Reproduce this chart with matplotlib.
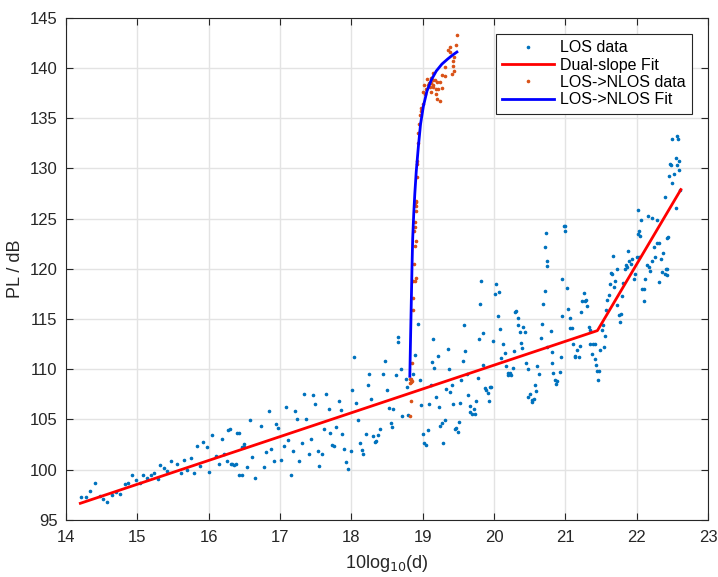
"""
Path loss vs. log-distance: LOS data with dual-slope fit and LOS->NLOS transition.
"""

import numpy as np
import matplotlib
matplotlib.use("Agg")
import matplotlib.pyplot as plt

plt.rcParams["font.family"] = ["Liberation Sans", "DejaVu Sans"]

# LOS measurements (10log10(d), PL in dB)
los_x = [14.21, 14.28, 14.34, 14.41, 14.47, 14.52, 14.58, 14.64, 14.70, 14.76,
         14.82, 14.87, 14.92, 14.98, 15.03, 15.08, 15.14, 15.19, 15.24, 15.29,
         15.32, 15.37, 15.41, 15.47, 15.56, 15.61, 15.65, 15.70, 15.75, 15.79,
         15.83, 15.88, 15.92, 15.97, 16.01, 16.05, 16.10, 16.14, 16.18, 16.22,
         16.26, 16.30, 16.33, 16.38, 16.42, 16.46, 16.50,
         16.27, 16.39, 16.31, 16.35, 16.43, 16.47, 16.50, 16.54, 16.58, 16.61,
         16.65, 16.73, 16.77, 16.80, 16.84, 16.87, 16.91, 16.94, 16.97, 17.01,
         17.05, 17.08, 17.11, 17.15, 17.18, 17.21, 17.24, 17.27, 17.31, 17.34,
         17.37, 17.40, 17.43, 17.46, 17.49, 17.53, 17.55, 17.59, 17.62, 17.64,
         17.68, 17.70, 17.73, 17.76, 17.79, 17.82, 17.85, 17.87, 17.90, 17.93,
         17.96, 17.99, 18.01, 18.04, 18.07, 18.09, 18.12, 18.15, 18.17, 18.20,
         18.23, 18.25, 18.28, 18.30, 18.33, 18.35, 18.38, 18.40, 18.45, 18.47,
         18.50, 18.53, 18.55, 18.57, 18.59, 18.62, 18.66, 18.69, 18.71, 18.76,
         18.78, 18.79, 18.66, 18.87,
         18.93, 18.89, 18.96, 18.98, 19.00, 19.02, 19.04, 19.07, 19.09, 19.11,
         19.13, 19.15, 19.16, 19.19, 19.21, 19.23, 19.25, 19.27, 19.29, 19.31,
         19.33, 19.35, 19.37, 19.39, 19.41, 19.43, 19.45, 19.47, 19.49, 19.51,
         19.53, 19.54, 19.56, 19.58, 19.60, 19.62, 19.64, 19.66, 19.67, 19.69,
         19.72, 19.73, 19.75, 19.77, 19.79, 19.80, 19.82, 19.84, 19.85, 19.87,
         19.89, 19.91, 19.93, 19.94, 19.96, 19.99, 20.01, 20.03, 20.05, 20.07,
         20.08, 20.10, 20.13, 20.15, 20.17, 20.19, 20.20, 20.22, 20.24, 20.26,
         20.28, 20.30, 20.31, 20.33, 20.34, 20.36, 20.38, 20.39, 20.41, 20.43,
         20.45, 20.47, 20.48, 20.50, 20.53, 20.54, 20.56, 20.57, 20.59, 20.60,
         20.63, 20.66, 20.68, 20.69, 20.72, 20.74, 20.75, 20.71, 20.75, 20.73,
         20.80, 20.81, 20.82, 20.83, 20.86, 20.87, 20.89, 20.92, 20.94, 20.96,
         20.96, 20.98, 20.99, 21.00, 21.02, 21.04, 21.06, 21.07, 21.09, 21.11,
         21.13, 21.14, 21.17, 21.19, 21.20, 21.22, 21.24, 21.26, 21.27, 21.29,
         21.31, 21.33, 21.34, 21.35, 21.37, 21.39, 21.41, 21.42, 21.43, 21.44,
         21.46, 21.47, 21.48, 21.51, 21.53, 21.54, 21.56, 21.57, 21.59, 21.61,
         21.63, 21.64, 21.66, 21.67, 21.68, 21.70, 21.72, 21.73, 21.75, 21.76,
         21.78, 21.80, 21.81, 21.83, 21.85, 21.86, 21.88, 21.90, 21.92, 21.93,
         21.96, 21.98, 22.00, 22.02, 22.03, 22.04, 22.05, 22.06, 22.08, 22.10,
         22.11, 22.12, 22.15, 22.16, 22.17, 22.19, 22.21, 22.22, 22.24, 22.26,
         22.28, 22.29, 22.31, 22.32, 22.34, 22.35, 22.37, 22.40, 22.41, 22.43,
         22.50, 22.57, 22.58, 22.55, 22.59, 22.47, 22.48, 22.56, 22.60, 22.45,
         22.52, 22.49, 22.61, 22.40, 22.55, 22.44, 22.43, 22.42, 22.02]
los_pl = [97.3, 97.3, 97.9, 98.7, 97.4, 97.1, 96.8, 97.5, 97.8, 97.6,
          98.6, 98.7, 99.5, 99.0, 98.7, 99.5, 99.2, 99.5, 99.7, 99.1,
          100.5, 100.2, 99.9, 100.9, 100.6, 99.7, 101.0, 100.0, 101.2, 99.7,
          102.4, 100.4, 102.8, 102.3, 99.8, 103.5, 101.4, 100.6, 103.1, 101.6,
          100.9, 104.1, 100.6, 100.6, 103.7, 99.5, 102.3,
          104.0, 103.7, 100.6, 100.5, 99.5, 102.3, 102.6, 100.3, 104.9, 101.3,
          99.2, 104.4, 100.3, 101.8, 105.8, 102.1, 100.9, 104.5, 104.2, 101.0,
          102.4, 106.2, 103.0, 99.5, 101.9, 105.8, 105.0, 100.9, 102.7, 107.5,
          105.0, 101.6, 103.1, 107.4, 106.5, 101.9, 100.4, 101.6, 104.1, 107.5,
          106.0, 103.7, 102.5, 102.4, 104.3, 106.8, 105.9, 103.6, 102.1, 100.8,
          100.1, 101.9, 107.9, 111.2, 106.6, 104.9, 102.7, 102.0, 101.6, 103.6,
          108.4, 109.5, 107.0, 103.4, 102.8, 102.9, 103.5, 104.1, 109.5, 110.8,
          107.9, 106.1, 104.6, 104.3, 106.0, 109.4, 112.7, 110.0, 105.3, 109.0,
          108.2, 105.4, 113.2, 109.5,
          114.5, 111.4, 108.9, 106.4, 103.6, 102.7, 102.5, 104.0, 106.5, 108.4,
          110.7, 113.0, 110.1, 107.2, 111.3, 106.2, 104.4, 104.6, 102.7, 104.9,
          108.0, 112.0, 110.0, 107.7, 108.4, 106.5, 104.1, 104.2, 103.8, 104.7,
          106.6, 108.9, 110.8, 114.4, 111.8, 109.5, 107.4, 106.3, 105.7, 105.5,
          106.0, 105.5, 106.8, 109.1, 113.0, 116.5, 118.8, 113.6, 110.4, 108.1,
          107.9, 107.6, 106.8, 108.2, 108.2, 112.8, 117.5, 118.5, 115.3, 117.7,
          114.0, 111.1, 112.5, 111.6, 110.3, 109.4, 109.6, 109.6, 109.4, 110.1,
          111.8, 115.7, 115.8, 114.4, 115.1, 113.7, 112.6, 112.1, 114.2, 113.7,
          110.6, 110.0, 107.2, 107.5, 106.9, 106.7, 107.0, 108.4, 107.8, 110.3,
          109.5, 113.1, 114.5, 116.5, 117.8, 120.8, 120.3, 122.2, 112.2, 123.6,
          113.8, 111.7, 110.6, 109.6, 108.9, 108.5, 108.8, 109.7, 111.2, 115.3,
          119.0, 124.3, 124.3, 123.8, 118.1, 116.0, 115.1, 114.1, 114.1, 112.5,
          111.3, 111.2, 111.9, 111.2, 112.3, 115.7, 116.8, 117.6, 116.8, 116.9,
          116.3, 114.2, 113.9, 112.5, 111.5, 112.5, 112.5, 111.0, 110.4, 109.8,
          108.9, 109.8, 111.9, 113.9, 114.4, 112.2, 113.3, 115.9, 116.9, 117.4,
          118.5, 119.6, 119.5, 121.3, 118.2, 118.8, 120.0, 116.4, 115.4, 114.7,
          115.5, 117.3, 118.6, 120.0, 120.4, 120.2, 121.8, 120.8, 120.5, 121.0,
          119.0, 119.5, 121.2, 123.5, 123.8, 121.2, 123.3, 124.9, 118.0, 116.8,
          118.0, 119.0, 120.4, 125.3, 120.2, 119.8, 125.1, 120.8, 122.2, 121.2,
          124.9, 122.6, 122.6, 118.7, 121.0, 119.7, 121.6, 119.5, 120.0, 123.1,
          132.9, 133.2, 132.9, 131.0, 130.7, 130.4, 130.3, 130.3, 129.8, 129.3,
          129.5, 128.6, 127.9, 127.2, 126.1, 123.2, 120.0, 119.4, 125.9]

# LOS->NLOS measurements
nlos_x = [19.48, 19.47, 19.38, 19.36, 19.38, 19.44, 19.43, 19.42, 19.32, 19.44,
          19.15, 19.41, 19.27, 19.32, 19.06, 19.11, 19.14, 19.17, 19.09, 19.12,
          19.02, 19.07, 19.15, 19.20, 19.25, 19.27, 19.04, 19.10, 19.14, 19.18,
          19.22, 19.00, 19.03, 19.19, 19.12, 19.20, 19.25, 19.00, 18.98, 18.97,
          18.96, 18.95, 18.94, 18.93, 18.92, 18.92, 18.92, 18.90, 18.89,
          18.91, 18.91, 18.90, 18.89, 18.89, 18.88, 18.90, 18.89, 18.88, 18.90,
          18.89, 18.87, 18.86, 18.86, 18.85, 18.84, 18.83, 18.82, 18.85, 18.82,
          18.83, 18.82]
nlos_pl = [143.3, 142.3, 142.1, 141.8, 141.6, 141.1, 140.7, 140.2, 140.1, 139.7,
           139.5, 139.4, 139.3, 139.2, 138.9, 139.0, 138.8, 138.8, 138.5, 138.5,
           138.3, 138.3, 138.3, 138.6, 138.6, 138.0, 137.9, 138.1, 138.1, 137.9,
           137.9, 137.6, 137.4, 137.4, 137.6, 136.9, 136.7, 136.4, 136.0, 135.7,
           135.3, 134.4, 133.5, 132.5, 130.7, 130.4, 129.2, 126.7, 126.4,
           126.8, 126.3, 125.8, 124.7, 124.2, 123.8, 122.8, 122.3, 120.5, 119.1,
           118.8, 118.8, 117.1, 115.9, 110.6, 109.0, 108.7, 108.6, 108.8, 109.0,
           106.8, 105.3]

# dual-slope fit (start, breakpoint, end)
fit_x = [14.2, 21.45, 22.62]
fit_pl = [96.65, 113.85, 127.9]

# LOS->NLOS fit curve
trans_x = [18.82, 18.83, 18.84, 18.85, 18.86, 18.875, 18.89, 18.91, 18.94,
           18.97, 19.01, 19.06, 19.12, 19.19, 19.27, 19.35, 19.42, 19.48]
trans_pl = [109.3, 113.0, 116.5, 120.0, 123.0, 125.5, 127.5, 129.7, 132.2,
            134.4, 136.2, 137.7, 138.8, 139.7, 140.4, 140.9, 141.3, 141.6]

fig = plt.figure(figsize=(7.18, 5.77), dpi=100)
ax = fig.add_axes([0.092, 0.099, 0.894, 0.870])

ax.plot(los_x, los_pl, ".", color="#0072BD", markersize=3.2, label="LOS data")
ax.plot(fit_x, fit_pl, "-", color="red", linewidth=2, label="Dual-slope Fit")
ax.plot(nlos_x, nlos_pl, ".", color="#D95319", markersize=3.2, label="LOS->NLOS data")
ax.plot(trans_x, trans_pl, "-", color="blue", linewidth=2, label="LOS->NLOS Fit")

ax.set_xlim(14, 23)
ax.set_ylim(95, 145)
ax.set_xticks(np.arange(14, 24, 1))
ax.set_yticks(np.arange(95, 150, 5))
ax.grid(color="#e3e3e3", linestyle="-", linewidth=1)
ax.set_axisbelow(True)
ax.tick_params(direction="in", top=True, right=True, labelsize=12,
               colors="#262626", length=5)
ax.tick_params(axis="x", pad=7)
ax.tick_params(axis="y", pad=6)
for s in ax.spines.values():
    s.set_color("#262626")
    s.set_linewidth(0.8)

ax.set_xlabel("10log$_{10}$(d)", fontsize=13, color="#262626", labelpad=6)
ax.set_ylabel("PL / dB", fontsize=13, color="#262626", labelpad=4)

leg = ax.legend(loc="upper right", fontsize=11.5, fancybox=False, framealpha=1,
                edgecolor="#262626", borderaxespad=1.0, handlelength=3.2,
                labelspacing=0.15, borderpad=0.4, handletextpad=0.4,
                markerscale=1.0)
leg.get_frame().set_linewidth(0.8)

fig.savefig("out.png", dpi=100)
